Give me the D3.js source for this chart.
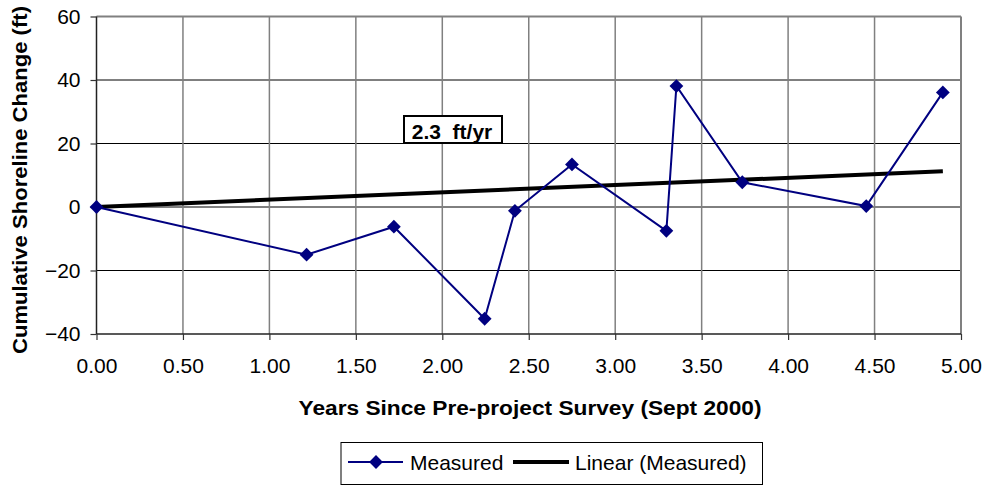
<!DOCTYPE html>
<html>
<head>
<meta charset="utf-8">
<script src="https://cdn.jsdelivr.net/npm/d3@7"></script>
<style>
  html, body { margin: 0; padding: 0; background: #fff; }
  svg { display: block; }
  text { font-family: "Liberation Sans", Arial, sans-serif; }
</style>
</head>
<body>
<svg id="chart" width="989" height="487"></svg>
<script>
// ---- data ----
const years = [0.00, 1.215, 1.72, 2.245, 2.42, 2.75, 3.296, 3.354, 3.735, 4.452, 4.895];
const change = [0, -15, -6.2, -35.2, -1.2, 13.4, -7.5, 38.1, 7.8, 0.3, 36.1];
const trendSlope = 2.3;       // ft/yr (linear trend, through origin)
const trendIntercept = 0;
const xTicks = [0, 0.5, 1, 1.5, 2, 2.5, 3, 3.5, 4, 4.5, 5];
const yTicks = [-40, -20, 0, 20, 40, 60];
const seriesNames = ["Measured", "Linear (Measured)"];
const trendLabel = "2.3  ft/yr";
const xTitle = "Years Since Pre-project Survey (Sept 2000)";
const yTitle = "Cumulative Shoreline Change (ft)";

// ---- layout ----
const svg = d3.select("#chart");
const L = 96.5, R = 961, T = 16.5, B = 334;
const x = d3.scaleLinear().domain([0, 5]).range([L, R]);
const y = d3.scaleLinear().domain([-40, 60]).range([B, T]);
const FF = '"Liberation Sans", Arial, sans-serif';

// gridlines
const g = svg.append("g");
g.selectAll("line.hg").data(yTicks.filter(v => v > -40 && v < 60)).join("line")
  .attr("x1", L).attr("x2", R).attr("y1", d => y(d)).attr("y2", d => y(d))
  .attr("stroke", "#000").attr("stroke-width", 1);
g.selectAll("line.vg").data(xTicks.filter(v => v > 0 && v < 5)).join("line")
  .attr("x1", d => x(d)).attr("x2", d => x(d)).attr("y1", T).attr("y2", B)
  .attr("stroke", "#808080").attr("stroke-width", 1.5);

// plot border (top & right gray)
g.append("line").attr("x1", L).attr("x2", R).attr("y1", T).attr("y2", T).attr("stroke", "#808080").attr("stroke-width", 2);
g.append("line").attr("x1", R).attr("x2", R).attr("y1", T).attr("y2", B).attr("stroke", "#808080").attr("stroke-width", 2);

// axes
const xAxis = d3.axisBottom(x).tickValues(xTicks).tickFormat(d3.format(".2f")).tickSize(6);
const yAxis = d3.axisLeft(y).tickValues(yTicks).tickFormat(d3.format("d")).tickSize(6);
const gx = svg.append("g").attr("transform", `translate(0,${B})`).call(xAxis);
const gy = svg.append("g").attr("transform", `translate(${L},0)`).call(yAxis);
[gx, gy].forEach(a => {
  a.attr("font-size", 21).attr("font-family", FF);
  a.select(".domain").attr("stroke", "#222").attr("stroke-width", 1.5);
  a.selectAll(".tick line").attr("stroke", "#333").attr("stroke-width", 1.2);
  a.selectAll(".tick text").attr("font-size", 21).attr("fill", "#000").style("font-family", FF);
});
gx.select(".domain").attr("d", `M${L},0H${R}`);
gy.select(".domain").attr("d", `M0,${T}V${B}`);
gx.selectAll(".tick text").attr("dy", "0.71em").attr("y", 24);
gy.selectAll(".tick text").attr("x", -16);

// trend line
const trendX = [0, d3.max(years)];
svg.append("line")
  .attr("x1", x(trendX[0])).attr("y1", y(trendIntercept + trendSlope * trendX[0]))
  .attr("x2", x(trendX[1])).attr("y2", y(trendIntercept + trendSlope * trendX[1]))
  .attr("stroke", "#000").attr("stroke-width", 4);

// measured series
const pts = years.map((v, i) => [v, change[i]]);
svg.append("path").datum(pts)
  .attr("d", d3.line().x(d => x(d[0])).y(d => y(d[1])))
  .attr("fill", "none").attr("stroke", "#000080").attr("stroke-width", 2);
const diamond = d3.symbol().type(d3.symbolSquare).size(95);
svg.selectAll("path.mk").data(pts).join("path")
  .attr("d", diamond)
  .attr("transform", d => `translate(${x(d[0])},${y(d[1])}) rotate(45)`)
  .attr("fill", "#000080");

// trend label box
const lb = svg.append("g");
lb.append("rect").attr("x", 404).attr("y", 116).attr("width", 98).attr("height", 27)
  .attr("fill", "#fff").attr("stroke", "#000").attr("stroke-width", 2);
lb.append("text").attr("x", 452).attr("y", 138.5).attr("text-anchor", "middle")
  .attr("font-size", 21).attr("font-weight", "bold").attr("xml:space", "preserve")
  .style("white-space", "pre").text(trendLabel);

// axis titles
svg.append("text").attr("x", 530).attr("y", 415).attr("text-anchor", "middle")
  .attr("font-size", 20).attr("font-weight", "bold")
  .attr("textLength", 463).attr("lengthAdjust", "spacingAndGlyphs").text(xTitle);
svg.append("text").attr("transform", "translate(27,180) rotate(-90)").attr("text-anchor", "middle")
  .attr("font-size", 20).attr("font-weight", "bold")
  .attr("textLength", 348).attr("lengthAdjust", "spacingAndGlyphs").text(yTitle);

// legend
const lg = svg.append("g");
lg.append("rect").attr("x", 341).attr("y", 442.5).attr("width", 421.5).attr("height", 42)
  .attr("fill", "#fff").attr("stroke", "#000").attr("stroke-width", 1);
lg.append("line").attr("x1", 348).attr("x2", 403).attr("y1", 462).attr("y2", 462)
  .attr("stroke", "#000080").attr("stroke-width", 2);
lg.append("path").attr("d", diamond).attr("transform", "translate(376,462) rotate(45)").attr("fill", "#000080");
lg.append("text").attr("x", 410).attr("y", 470).attr("font-size", 21).text(seriesNames[0]);
lg.append("line").attr("x1", 513).attr("x2", 569).attr("y1", 462).attr("y2", 462)
  .attr("stroke", "#000").attr("stroke-width", 4);
lg.append("text").attr("x", 575).attr("y", 470).attr("font-size", 21).text(seriesNames[1]);
</script>
</body>
</html>
